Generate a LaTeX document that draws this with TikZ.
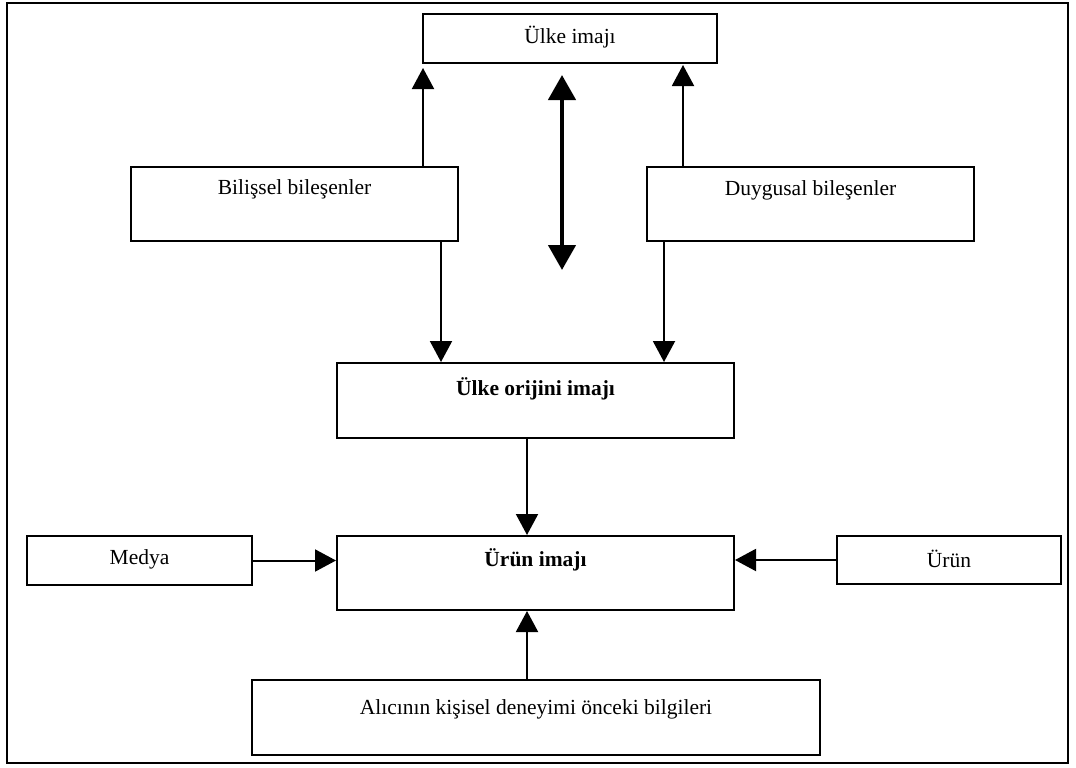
\documentclass[tikz,border=0pt]{standalone}
\usepackage{fontspec}
\setmainfont{Liberation Serif}
\usetikzlibrary{arrows.meta}
\tikzset{
  box/.style={draw, line width=2pt, rectangle, inner sep=0pt},
  lbl/.style={font=\fontsize{21.5}{26}\selectfont, anchor=center},
  arr/.style={line width=2pt, -{Triangle[length=21pt,width=22pt]}},
  dbl/.style={line width=4.5pt, {Triangle[length=25pt,width=27pt]}-{Triangle[length=25pt,width=27pt]}},
}
\begin{document}
\begin{tikzpicture}[x=1pt,y=-1pt]
\useasboundingbox (0,0) rectangle (1076,768);
\draw[line width=2pt] (7,3) rectangle (1068,763);
% boxes
\node[box, minimum width=294pt, minimum height=49pt,
  label={[lbl, yshift=-24.5pt]north:Ülke imajı}] (imaj) at (570,38.5) {};
\node[box, minimum width=327pt, minimum height=74pt,
  label={[lbl, yshift=-23pt]north:Bilişsel bileşenler}] (bil) at (294.5,204) {};
\node[box, minimum width=327pt, minimum height=74pt,
  label={[lbl, yshift=-24pt]north:Duygusal bileşenler}] (duy) at (810.5,204) {};
\node[box, minimum width=397pt, minimum height=75pt,
  label={[lbl, yshift=-27pt]north:\textbf{Ülke orijini imajı}}] (ori) at (535.5,400.5) {};
\node[box, minimum width=397pt, minimum height=74pt,
  label={[lbl, yshift=-25pt]north:\textbf{Ürün imajı}}] (urim) at (535.5,573) {};
\node[box, minimum width=225pt, minimum height=49pt,
  label={[lbl, yshift=-24.5pt]north:Medya}] (med) at (139.5,560.5) {};
\node[box, minimum width=224pt, minimum height=48pt,
  label={[lbl, yshift=-24pt]north:Ürün}] (urun) at (949,560) {};
\node[box, minimum width=568pt, minimum height=75pt,
  label={[lbl, yshift=-30pt]north:Alıcının kişisel deneyimi önceki bilgileri}] (alici) at (536,717.5) {};
% helper coordinates
\coordinate (xa) at (423,0);
\coordinate (xb) at (683,0);
\coordinate (xc) at (441,0);
\coordinate (xd) at (664,0);
\coordinate (xe) at (527,0);
\coordinate (ya) at (0,68);
\coordinate (yb) at (0,65);
\coordinate (d1) at (562,75);
\coordinate (d2) at (562,270);
% connectors
\draw[arr] (bil.north -| xa) -- (xa |- ya);
\draw[arr] (duy.north -| xb) -- (xb |- yb);
\draw[dbl] (d1) -- (d2);
\draw[arr] (bil.south -| xc) -- (ori.north -| xc);
\draw[arr] (duy.south -| xd) -- (ori.north -| xd);
\draw[arr] (ori.south -| xe) -- (urim.north -| xe);
\draw[arr] (med.east) -- (urim.west |- med.east);
\draw[arr] (urun.west) -- (urim.east |- urun.west);
\draw[arr] (alici.north -| xe) -- (urim.south -| xe);
\end{tikzpicture}
\end{document}
